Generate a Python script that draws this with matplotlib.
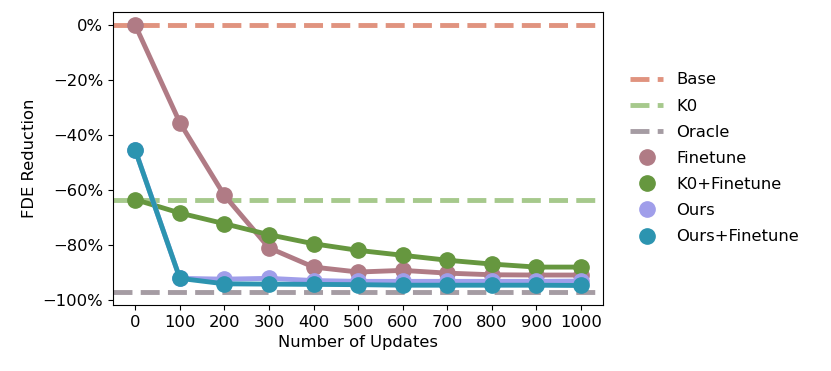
import numpy as np
import matplotlib
matplotlib.use('Agg')
import matplotlib.pyplot as plt
from matplotlib.ticker import PercentFormatter
from matplotlib.lines import Line2D

# number of updates (categorical x axis)
updates = [0, 100, 200, 300, 400, 500, 600, 700, 800, 900, 1000]

# horizontal reference levels (FDE reduction in %)
base = 0.0
k0 = -63.6
oracle = -97.0

finetune = [0.0, -35.5, -62.0, -81.1, -88.1, -89.9, -89.3, -90.3, -90.9, -91.0, -91.0]
k0_finetune = [-63.5, -68.4, -72.3, -76.3, -79.6, -82.0, -83.8, -85.6, -87.0, -88.1, -88.1]
ours = [-45.5, -92.2, -92.5, -92.2, -93.0, -93.3, -93.3, -93.3, -93.3, -93.3, -93.2]
ours_finetune = [-45.6, -92.2, -94.2, -94.3, -94.4, -94.5, -94.7, -94.7, -94.7, -94.7, -94.8]

c_base = '#e0937f'
c_k0 = '#a6c98c'
c_oracle = '#a59ca3'
c_ft = '#b07b85'
c_k0ft = '#66973f'
c_ours = '#a09eea'
c_oursft = '#2c94b0'

plt.rcParams['font.size'] = 11.8

fig = plt.figure(figsize=(8.31, 3.71), dpi=100)
ax = fig.add_axes([0.136, 0.178, 0.59, 0.79])

x = np.arange(len(updates))
dash = dict(lw=3.5, ls='--', dashes=(3.9, 1.7))
ax.axhline(base, color=c_base, **dash)
ax.axhline(k0, color=c_k0, **dash)
ax.axhline(oracle, color=c_oracle, **dash)

for vals, c in [(finetune, c_ft), (k0_finetune, c_k0ft), (ours, c_ours), (ours_finetune, c_oursft)]:
    ax.plot(x, vals, color=c, lw=3.5, marker='o', ms=11, zorder=3)

ax.set_xticks(x)
ax.set_xticklabels([str(u) for u in updates])
ax.set_xlim(-0.5, len(updates) - 0.5)
ax.set_ylim(-101.9, 4.9)
ax.set_yticks([0, -20, -40, -60, -80, -100])
ax.yaxis.set_major_formatter(PercentFormatter(decimals=0))
ax.set_xlabel('Number of Updates')
ax.set_ylabel('FDE Reduction')

handles = [
    Line2D([], [], color=c_base, **dash),
    Line2D([], [], color=c_k0, **dash),
    Line2D([], [], color=c_oracle, **dash),
    Line2D([], [], color=c_ft, ls='', marker='o', ms=11),
    Line2D([], [], color=c_k0ft, ls='', marker='o', ms=11),
    Line2D([], [], color=c_ours, ls='', marker='o', ms=11),
    Line2D([], [], color=c_oursft, ls='', marker='o', ms=11),
]
labels = ['Base', 'K0', 'Oracle', 'Finetune', 'K0+Finetune', 'Ours', 'Ours+Finetune']
ax.legend(handles, labels, loc='center left', bbox_to_anchor=(1.025, 0.5), frameon=False,
          handlelength=2.0, labelspacing=0.68)

fig.savefig('out.png', dpi=100)
